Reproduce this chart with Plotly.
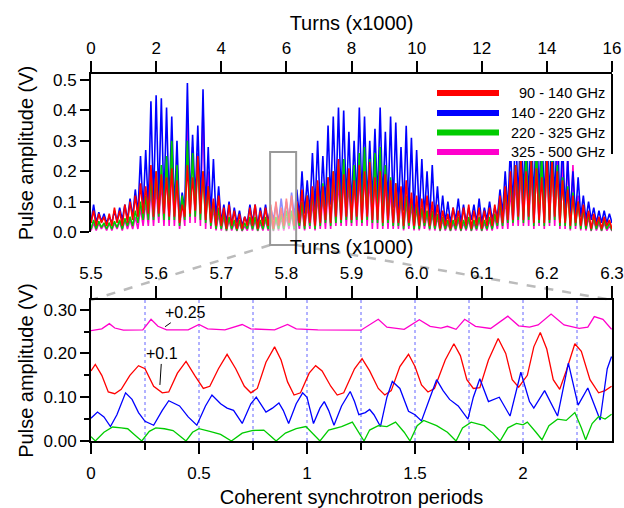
import plotly.graph_objects as go

# ---------------- top panel data (kturns, V) ----------------
# troughs at every 0.16 kturns, peaks half-way between
top_step = 0.16
red_troughs = [0.03,0.02,0.03,0.02,0.02,0.03,0.02,0.03,0.04,0.05,
               0.06,0.06,0.05,0.06,0.06,0.05,0.05,0.03,0.05,0.06,
               0.07,0.06,0.04,0.03,0.02,0.02,0.01,0.02,0.01,0.01,
               0.02,0.02,0.01,0.02,0.02,0.01,0.02,0.02,0.03,0.02,
               0.03,0.02,0.03,0.02,0.03,0.04,0.03,0.05,0.04,0.05,
               0.04,0.05,0.04,0.05,0.04,0.04,0.03,0.04,0.03,0.03,
               0.02,0.03,0.02,0.02,0.03,0.02,0.02,0.01,0.02,0.01,
               0.02,0.01,0.02,0.01,0.02,0.01,0.02,0.02,0.03,0.03,
               0.04,0.04,0.05,0.04,0.05,0.03,0.04,0.03,0.04,0.05,
               0.03,0.03,0.02,0.03,0.02,0.02,0.01,0.02,0.01,0.02,
               0.01]
red_peaks = [0.07,0.06,0.05,0.06,0.08,0.07,0.09,0.10,0.12,0.16,
             0.15,0.22,0.20,0.19,0.18,0.21,0.17,0.09,0.22,0.18,
             0.25,0.20,0.15,0.11,0.12,0.08,0.09,0.07,0.06,0.05,
             0.08,0.09,0.07,0.08,0.09,0.10,0.08,0.11,0.12,0.10,
             0.14,0.12,0.15,0.17,0.15,0.18,0.20,0.24,0.19,0.21,
             0.17,0.22,0.20,0.23,0.18,0.20,0.19,0.17,0.16,0.15,
             0.17,0.13,0.12,0.11,0.12,0.10,0.09,0.07,0.06,0.08,
             0.07,0.08,0.09,0.07,0.08,0.07,0.08,0.09,0.12,0.15,
             0.20,0.22,0.25,0.20,0.24,0.21,0.18,0.25,0.23,0.20,
             0.17,0.14,0.12,0.10,0.09,0.07,0.06,0.05,0.05,0.04]
blue_troughs = [0.03,0.03,0.035,0.03,0.03,0.035,0.04,0.04,0.05,0.06,
                0.07,0.08,0.09,0.10,0.09,0.08,0.07,0.05,0.07,0.09,
                0.10,0.08,0.06,0.05,0.04,0.03,0.03,0.02,0.03,0.02,
                0.03,0.03,0.02,0.03,0.03,0.04,0.03,0.04,0.04,0.05,
                0.05,0.06,0.06,0.07,0.07,0.08,0.09,0.10,0.10,0.09,
                0.08,0.10,0.10,0.09,0.10,0.10,0.09,0.08,0.08,0.07,
                0.07,0.06,0.05,0.05,0.05,0.04,0.04,0.03,0.03,0.03,
                0.04,0.03,0.03,0.04,0.03,0.03,0.04,0.04,0.05,0.06,
                0.07,0.08,0.09,0.10,0.10,0.09,0.10,0.09,0.10,0.09,
                0.08,0.07,0.06,0.05,0.05,0.04,0.04,0.03,0.03,0.03,
                0.03]
blue_peaks = [0.09,0.065,0.06,0.05,0.07,0.08,0.09,0.11,0.14,0.25,
              0.27,0.43,0.45,0.44,0.41,0.38,0.30,0.13,0.49,0.32,
              0.35,0.47,0.28,0.24,0.15,0.09,0.10,0.08,0.07,0.05,
              0.09,0.09,0.08,0.09,0.08,0.09,0.11,0.10,0.13,0.14,
              0.20,0.17,0.26,0.30,0.25,0.35,0.38,0.41,0.40,0.33,
              0.30,0.41,0.38,0.30,0.34,0.41,0.33,0.38,0.36,0.28,
              0.35,0.31,0.27,0.24,0.20,0.22,0.15,0.12,0.10,0.08,
              0.11,0.09,0.08,0.09,0.11,0.08,0.10,0.08,0.14,0.20,
              0.28,0.35,0.40,0.38,0.36,0.40,0.38,0.35,0.40,0.36,
              0.30,0.24,0.20,0.18,0.12,0.10,0.08,0.07,0.07,0.06]
green_troughs = [0.01,0.01,0.015,0.01,0.01,0.015,0.01,0.02,0.02,0.03,
                 0.04,0.04,0.04,0.05,0.04,0.04,0.04,0.02,0.04,0.05,
                 0.05,0.04,0.03,0.02,0.01,0.01,0.005,0.01,0.005,0.005,
                 0.01,0.01,0.005,0.01,0.01,0.005,0.01,0.01,0.02,0.01,
                 0.02,0.01,0.02,0.01,0.02,0.03,0.02,0.03,0.03,0.04,
                 0.03,0.04,0.03,0.04,0.03,0.03,0.02,0.03,0.02,0.02,
                 0.01,0.02,0.01,0.01,0.02,0.01,0.01,0.005,0.01,0.005,
                 0.01,0.005,0.01,0.005,0.01,0.005,0.01,0.01,0.02,0.02,
                 0.03,0.03,0.04,0.03,0.04,0.02,0.03,0.02,0.03,0.04,
                 0.02,0.02,0.01,0.02,0.01,0.01,0.005,0.01,0.005,0.01,
                 0.005]
green_peaks = [0.04,0.035,0.03,0.03,0.035,0.04,0.045,0.05,0.07,0.10,
               0.12,0.18,0.20,0.22,0.25,0.30,0.22,0.12,0.30,0.26,
               0.24,0.20,0.15,0.10,0.08,0.06,0.05,0.04,0.04,0.03,
               0.05,0.05,0.04,0.05,0.06,0.05,0.06,0.07,0.07,0.08,
               0.10,0.12,0.14,0.15,0.16,0.18,0.20,0.22,0.24,0.20,
               0.22,0.26,0.28,0.24,0.26,0.28,0.22,0.18,0.16,0.14,
               0.12,0.11,0.09,0.08,0.07,0.07,0.06,0.05,0.04,0.04,
               0.05,0.04,0.05,0.04,0.05,0.04,0.05,0.06,0.10,0.14,
               0.18,0.22,0.25,0.27,0.25,0.28,0.26,0.27,0.25,0.22,
               0.18,0.15,0.13,0.10,0.08,0.06,0.05,0.04,0.04,0.03]
pink_troughs = [0.005,0.005,0.01,0.005,0.005,0.01,0.005,0.01,0.01,0.01,
                0.02,0.02,0.02,0.03,0.02,0.02,0.02,0.01,0.02,0.03,
                0.03,0.02,0.01,0.01,0.005,0.005,0.003,0.005,0.003,0.003,
                0.005,0.005,0.003,0.005,0.005,0.003,0.005,0.005,0.01,0.005,
                0.01,0.005,0.01,0.005,0.01,0.01,0.01,0.02,0.02,0.02,
                0.02,0.02,0.02,0.02,0.01,0.01,0.01,0.01,0.01,0.01,
                0.005,0.01,0.005,0.005,0.01,0.005,0.005,0.003,0.005,0.003,
                0.005,0.003,0.005,0.003,0.005,0.003,0.005,0.005,0.01,0.01,
                0.01,0.02,0.02,0.02,0.02,0.01,0.02,0.01,0.02,0.02,
                0.01,0.01,0.005,0.01,0.005,0.005,0.003,0.005,0.003,0.005,
                0.003]
pink_peaks = [0.03,0.03,0.025,0.03,0.03,0.035,0.04,0.04,0.05,0.08,
              0.10,0.14,0.15,0.17,0.20,0.22,0.18,0.10,0.37,0.28,
              0.26,0.42,0.20,0.08,0.06,0.05,0.04,0.03,0.03,0.02,
              0.04,0.04,0.03,0.04,0.05,0.04,0.05,0.05,0.06,0.06,
              0.08,0.09,0.10,0.12,0.12,0.14,0.15,0.17,0.18,0.16,
              0.17,0.19,0.20,0.18,0.19,0.22,0.17,0.14,0.12,0.11,
              0.10,0.09,0.08,0.07,0.06,0.06,0.05,0.04,0.03,0.03,
              0.04,0.03,0.04,0.03,0.04,0.03,0.04,0.05,0.08,0.11,
              0.14,0.17,0.20,0.22,0.21,0.23,0.22,0.24,0.23,0.24,
              0.26,0.25,0.22,0.12,0.07,0.05,0.04,0.03,0.03,0.02]

# ---------------- bottom panel data (synchrotron periods, V) ----------------
red_p = [0.00,0.02,0.05,0.08,0.11,0.14,0.18,0.22,0.25,0.29,0.33,0.36,0.40,0.44,0.48,0.52,0.55,0.59,0.63,0.67,
         0.71,0.74,0.77,0.81,0.85,0.88,0.91,0.94,0.97,1.01,1.04,1.07,1.11,1.14,1.17,1.22,1.255,1.29,1.33,1.36,
         1.39,1.43,1.47,1.50,1.53,1.56,1.59,1.64,1.68,1.71,1.74,1.77,1.80,1.84,1.885,1.92,1.95,1.98,2.02,2.05,
         2.08,2.11,2.14,2.17,2.20,2.24,2.27,2.31,2.35,2.38,2.41]
red_v = [0.160,0.175,0.150,0.112,0.108,0.118,0.150,0.172,0.165,0.125,0.110,0.112,0.155,0.182,0.150,0.120,0.125,0.165,0.198,0.165,
         0.125,0.110,0.120,0.180,0.215,0.185,0.135,0.105,0.110,0.155,0.172,0.160,0.125,0.105,0.110,0.165,0.188,0.160,0.120,0.105,
         0.115,0.170,0.198,0.170,0.128,0.112,0.120,0.185,0.222,0.195,0.140,0.120,0.122,0.185,0.234,0.200,0.140,0.123,0.150,0.215,
         0.248,0.210,0.140,0.118,0.160,0.222,0.205,0.140,0.110,0.115,0.125]
blue_p = [0.00,0.03,0.06,0.09,0.12,0.16,0.19,0.22,0.25,0.29,0.33,0.36,0.41,0.45,0.49,0.53,0.56,0.60,0.63,0.66,
          0.70,0.74,0.765,0.79,0.81,0.84,0.87,0.89,0.915,0.95,0.98,1.00,1.03,1.06,1.08,1.10,1.125,1.16,1.20,1.22,
          1.24,1.27,1.29,1.31,1.34,1.37,1.395,1.43,1.47,1.50,1.53,1.57,1.60,1.63,1.66,1.70,1.745,1.77,1.80,1.84,
          1.89,1.94,1.99,2.03,2.05,2.10,2.16,2.21,2.255,2.30,2.357,2.39,2.41]
blue_v = [0.052,0.066,0.055,0.033,0.060,0.110,0.095,0.065,0.045,0.036,0.070,0.092,0.080,0.055,0.036,0.080,0.105,0.085,0.075,0.070,
          0.040,0.085,0.100,0.080,0.066,0.075,0.087,0.070,0.040,0.085,0.110,0.100,0.040,0.075,0.090,0.070,0.036,0.080,0.113,0.090,
          0.060,0.065,0.072,0.060,0.033,0.100,0.136,0.120,0.068,0.060,0.046,0.100,0.140,0.115,0.095,0.080,0.050,0.100,0.142,0.090,
          0.100,0.057,0.157,0.090,0.075,0.115,0.057,0.178,0.082,0.121,0.048,0.165,0.193]
green_p = [0.00,0.02,0.06,0.10,0.14,0.17,0.20,0.235,0.27,0.30,0.34,0.38,0.41,0.44,0.47,0.50,0.55,0.60,0.65,0.70,
           0.75,0.80,0.83,0.857,0.90,0.95,0.995,1.03,1.06,1.10,1.16,1.21,1.24,1.264,1.29,1.33,1.37,1.41,1.45,1.477,
           1.51,1.54,1.60,1.65,1.69,1.72,1.76,1.82,1.86,1.894,1.93,1.97,2.00,2.02,2.06,2.088,2.12,2.16,2.20,2.24,
           2.27,2.29,2.32,2.35,2.38,2.41]
green_v = [0.010,0.000,0.020,0.032,0.030,0.028,0.015,0.000,0.022,0.030,0.028,0.024,0.012,0.000,0.020,0.028,0.022,0.015,0.000,0.018,
           0.024,0.025,0.012,0.000,0.018,0.028,0.033,0.015,0.000,0.025,0.033,0.043,0.020,0.000,0.025,0.035,0.033,0.043,0.020,0.000,
           0.035,0.047,0.035,0.020,0.000,0.030,0.043,0.035,0.018,0.000,0.030,0.040,0.037,0.043,0.020,0.003,0.035,0.050,0.047,0.065,
           0.030,0.003,0.040,0.056,0.050,0.061]
pink_p = [0.00,0.05,0.085,0.11,0.15,0.24,0.278,0.31,0.35,0.45,0.50,0.54,0.62,0.70,0.74,0.85,0.91,0.95,1.05,1.25,
          1.33,1.37,1.45,1.52,1.57,1.62,1.65,1.69,1.73,1.78,1.85,1.93,1.98,2.03,2.07,2.13,2.19,2.26,2.30,2.33,
          2.37,2.41]
pink_v = [0.252,0.256,0.268,0.258,0.253,0.254,0.278,0.262,0.254,0.254,0.266,0.256,0.254,0.266,0.256,0.254,0.266,0.256,0.254,0.253,
          0.278,0.260,0.255,0.277,0.262,0.258,0.262,0.255,0.278,0.262,0.257,0.285,0.263,0.260,0.265,0.290,0.265,0.257,0.260,0.284,
          0.278,0.255]

# quarter-period guide positions in the lower panel
period_guides = [0.25, 0.5, 0.75, 1.0, 1.25, 1.5, 1.75, 2.0, 2.25]

series_names = ["90 - 140 GHz", "140 - 220 GHz", "220 - 325 GHz", "325 - 500 GHz"]
colors = ["#ff0000", "#0000ff", "#00cc00", "#ff00cc"]

def spikes(troughs, peaks):
    xs, ys = [], []
    for j, t in enumerate(troughs):
        xs.append(round(j * top_step, 3)); ys.append(t)
        if j < len(peaks):
            xs.append(round(j * top_step + top_step / 2, 3)); ys.append(peaks[j])
    return xs, ys

W, H = 624, 508
ml, mr, mt, mb = 91, 12, 74, 67
pw = W - ml - mr
ph = H - mt - mb
top_dom = [(441 - 232) / ph, 1.0]
bot_dom = [0.0, (441 - 300) / ph]
top_yr = [0, 0.52]
bot_xr = [0, 2.412]
top_xr = [0, 16]
turn_zoom = [5.5, 6.3]

def px_x(px):  # pixel column -> paper x
    return (px - ml) / pw
def px_y(py):  # pixel row -> paper y
    return (H - mb - py) / ph

FONT = "Liberation Sans, Arial, sans-serif"
GRID = "#6464ff"
fig = go.Figure()

top_sets = {"pink": (pink_troughs, pink_peaks, colors[3]),
            "blue": (blue_troughs, blue_peaks, colors[1]),
            "green": (green_troughs, green_peaks, colors[2]),
            "red": (red_troughs, red_peaks, colors[0])}
for key in ["pink", "blue", "green", "red"]:
    tr, pk, c = top_sets[key]
    xs, ys = spikes(tr, pk)
    fig.add_trace(go.Scatter(x=xs, y=ys, mode="lines", line=dict(color=c, width=1.6),
                             xaxis="x", yaxis="y", showlegend=False, hoverinfo="skip"))

for px, pv, c in [(red_p, red_v, colors[0]), (blue_p, blue_v, colors[1]),
                  (green_p, green_v, colors[2]), (pink_p, pink_v, colors[3])]:
    fig.add_trace(go.Scatter(x=px, y=pv, mode="lines", line=dict(color=c, width=1.3),
                             xaxis="x2", yaxis="y2", showlegend=False, hoverinfo="skip"))

# invisible trace to carry the top axis of the lower panel
fig.add_trace(go.Scatter(x=turn_zoom, y=[None, None], mode="lines", xaxis="x3", yaxis="y2",
                         showlegend=False, hoverinfo="skip"))

axis_common = dict(showline=True, linewidth=2, linecolor="black", ticks="outside", tickwidth=2,
                   tickcolor="black", showgrid=False, zeroline=False, automargin=False,
                   tickfont=dict(size=17, family=FONT, color="black"))

fig.update_layout(
    width=W, height=H, margin=dict(l=ml, r=mr, t=mt, b=mb),
    paper_bgcolor="white", plot_bgcolor="rgba(0,0,0,0)",
    font=dict(family=FONT, size=17, color="black"), showlegend=False,
    xaxis=dict(domain=[0, 1], anchor="y", side="top", range=top_xr, dtick=2, ticklen=11,
               title=dict(text="Turns (x1000)", standoff=3), **axis_common),
    yaxis=dict(domain=top_dom, anchor="x", range=top_yr, dtick=0.1, tickformat=".1f", ticklen=9,
               title=dict(text="Pulse amplitude (V)", standoff=14), **axis_common),
    xaxis2=dict(domain=[0, 1], anchor="y2", range=bot_xr, dtick=0.5, tick0=0, ticklen=11,
                ticklabelstandoff=5,
                title=dict(text="Coherent synchrotron periods", standoff=8),
                minor=dict(dtick=0.25, ticks="outside", ticklen=7, tickwidth=2, tickcolor="black"),
                **axis_common),
    xaxis3=dict(overlaying="x2", anchor="y2", side="top", range=turn_zoom, dtick=0.1, tick0=5.5,
                tickformat=".1f", ticklen=12, title=dict(text="Turns (x1000)", standoff=4), **axis_common),
    yaxis2=dict(domain=bot_dom, anchor="x2", range=[0, 0.322], dtick=0.1, tickformat=".2f", ticklen=9,
                mirror=True, title=dict(text="Pulse amplitude (V)", standoff=5),
                minor=dict(dtick=0.05, ticks="outside", ticklen=5, tickwidth=2, tickcolor="black"),
                **axis_common),
)

def top_paper_y(v):
    return top_dom[0] + (v - top_yr[0]) / (top_yr[1] - top_yr[0]) * (top_dom[1] - top_dom[0])

bx0 = turn_zoom[0] / top_xr[1]
bx1 = turn_zoom[1] / top_xr[1]
by0 = top_paper_y(-0.043)
by1 = top_paper_y(0.263)
shapes = []
for g in period_guides:
    shapes.append(dict(type="line", xref="x2", yref="paper", x0=g, x1=g, y0=bot_dom[0], y1=bot_dom[1],
                       line=dict(color=GRID, width=1, dash="dot"), layer="below"))
shapes += [
    dict(type="line", xref="paper", yref="paper", x0=bx0, y0=by0, x1=0, y1=bot_dom[1],
         line=dict(color="#bbbbbb", width=2.5, dash="dash"), layer="below"),
    dict(type="line", xref="paper", yref="paper", x0=bx1, y0=by0, x1=1, y1=bot_dom[1],
         line=dict(color="#bbbbbb", width=2.5, dash="dash"), layer="below"),
    dict(type="rect", xref="paper", yref="paper", x0=bx0, x1=bx1, y0=by0, y1=by1,
         line=dict(color="#999999", width=2), fillcolor="rgba(255,255,255,0.55)", layer="above"),
    # legend box (white) and its right edge
    dict(type="rect", xref="paper", yref="paper", x0=px_x(430), x1=1, y0=px_y(161), y1=px_y(76),
         line=dict(width=0), fillcolor="white", layer="above"),
    dict(type="line", xref="paper", yref="paper", x0=1, x1=1, y0=1, y1=px_y(154),
         line=dict(color="black", width=2)),
]
legend_rows = [93, 113, 132.5, 152]
for name, c, row in zip(series_names, colors, legend_rows):
    shapes.append(dict(type="line", xref="paper", yref="paper", x0=px_x(437), x1=px_x(499),
                       y0=px_y(row), y1=px_y(row), line=dict(color=c, width=6), layer="above"))
    fig.add_annotation(x=px_x(607), y=px_y(row), xref="paper", yref="paper", text=name,
                       showarrow=False, xanchor="right", yanchor="middle",
                       font=dict(size=14.5, family=FONT, color="black"))
fig.update_layout(shapes=shapes)

fig.add_annotation(x=0.343, y=0.261, xref="x2", yref="y2", text="+0.25", showarrow=True,
                   arrowhead=0, arrowwidth=1, arrowcolor="black", ax=20, ay=-14,
                   font=dict(size=16, family=FONT))
fig.add_annotation(x=0.319, y=0.128, xref="x2", yref="y2", text="+0.1", showarrow=True,
                   arrowhead=0, arrowwidth=1, arrowcolor="black", ax=2, ay=-31,
                   font=dict(size=16, family=FONT))

fig.write_html("out.html", config={"displayModeBar": False},
               post_script="document.body.style.margin='0px';")
